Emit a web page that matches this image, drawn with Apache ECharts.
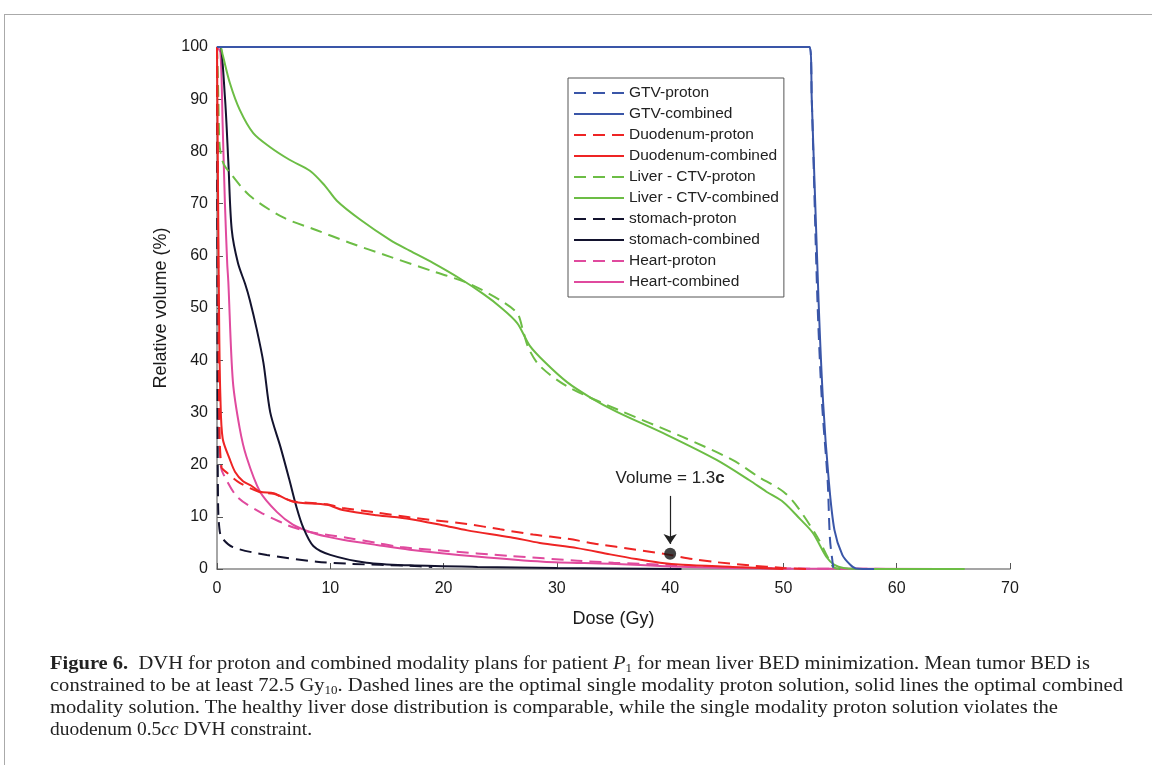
<!DOCTYPE html>
<html>
<head>
<meta charset="utf-8">
<script src="https://cdn.jsdelivr.net/npm/echarts@6/dist/echarts.min.js"></script>
<style>
  html, body { margin: 0; padding: 0; background: #fff; }
  #frame { position: absolute; left: 4px; top: 14px; width: 1148px; height: 751px;
           border-top: 1px solid #aaa; border-left: 1px solid #aaa; }
  #chart { position: absolute; left: 0; top: 0; width: 1152px; height: 765px; }
  .cap { position: absolute; left: 50px; white-space: nowrap; transform-origin: left center;
         font-family: 'Liberation Serif', 'DejaVu Serif', serif; font-size: 19px; line-height: 22px; color: #222; }
  .cap sub { font-size: 12px; line-height: 0; vertical-align: -3px; }
</style>
</head>
<body>
<div id="frame"></div>
<div id="chart"></div>
<div class="cap" id="l1" data-w="1040" style="top:652px"><b>Figure 6.</b>&nbsp; DVH for proton and combined modality plans for patient <i>P</i><sub>1</sub> for mean liver BED minimization. Mean tumor BED is</div>
<div class="cap" id="l2" data-w="1073" style="top:674px">constrained to be at least 72.5 Gy<sub>10</sub>. Dashed lines are the optimal single modality proton solution, solid lines the optimal combined</div>
<div class="cap" id="l3" data-w="1008" style="top:696px">modality solution. The healthy liver dose distribution is comparable, while the single modality proton solution violates the</div>
<div class="cap" id="l4" data-w="262" style="top:718px">duodenum 0.5<i>cc</i> DVH constraint.</div>
<script>
// dose (Gy), relative volume (%)
const gtvProton = [[0,100],[52.3,100],[52.5,90],[53.0,51.5],[53.4,32],[53.9,17],[54.1,6],[54.3,2],[54.5,0],[55,0]];
const gtvCombined = [[0,100],[52.3,100],[52.5,90],[53.1,51.5],[53.5,32],[54.0,17],[54.5,7.5],[55.2,2.7],[55.9,0.8],[56.4,0.1],[58,0]];

const duoProton = [[0,100],[0.1,60],[0.2,30],[0.4,19.5],[0.9,18.4],[2.0,16.5],[3.8,14.7],[5,14.4],[6.7,13],[9.7,12.4],[11.1,11.7],
  [14.1,10.8],[17,9.9],[22.1,8.6],[25,7.6],[27.9,6.6],[30.9,5.8],[33.8,4.7],[36.7,3.8],[39.7,2.8],[42,1.9],[44.1,1.3],[47,0.7],[50,0.2],[52,0]];
const duoCombined = [[0,100],[0.1,70],[0.2,45],[0.3,33],[0.5,25],[1.15,20.9],[1.6,18.6],[2.3,16.8],[3.0,16],[3.8,14.8],[5,14.5],
  [6.7,12.9],[9.7,12.3],[11.1,11.3],[14.1,10.3],[17,9.6],[19.9,8.4],[22.1,7.4],[25.9,6.1],[28.5,5],[31.8,4.0],[34.7,2.8],[37,1.9],
  [39.1,1.2],[41.1,0.8],[45.5,0.4],[50,0]];

const liverProton = [[0,100],[0.1,92],[0.2,82],[0.3,80],[0.6,77.5],[1.15,75.9],[2.9,71.5],[5.8,67.4],[8.8,64.9],[11.7,62.5],[15.3,59.8],
  [19.1,57],[22.1,54.8],[25,51.5],[26.5,49],[27,45.8],[27.5,42.3],[28.5,38.9],[30.9,35],[35.3,30.6],[41.1,25.3],[45.5,20.9],[47.7,17.8],
  [50,14.8],[51.2,12],[53,6.1],[53.9,2.3],[54.4,0.4],[55,0]];
const liverCombined = [[0,100],[0.3,100],[0.5,98.5],[1.15,93],[2.0,88],[3.2,83.5],[4.7,80.8],[6.4,78.4],[8.2,76.3],[9.5,73.5],[10.6,70.5],
  [12.6,67],[15.3,63],[17,61],[19.1,58.6],[21.4,55.7],[23.5,52.7],[25,50.2],[26.5,47.1],[27.6,42.8],[29,39.5],[30.9,35.8],[33,32.8],
  [35.3,30.1],[39.7,25.7],[44.1,20.9],[47,17],[48.5,14.8],[50,12.8],[51.5,9.5],[52.6,6.9],[53.8,2.3],[54.5,0.8],[55.3,0.2],[57,0],[66,0]];

const stomachProton = [[0,100],[0.05,30],[0.1,12],[0.2,8],[0.4,6.1],[1.4,4.2],[4.4,2.7],[8.8,1.4],[11.7,1.0],[17,0.6],[19,0.4]];
const stomachCombined = [[0,100],[0.26,100],[0.7,90.4],[1.0,78],[1.3,65],[1.85,58.6],[2.5,54.5],[2.9,51.5],[3.5,46],[4.1,39.5],[4.7,30],
  [5.6,23.4],[6.4,17],[7.0,12],[7.6,8],[8.5,4.4],[10,2.7],[13.2,1.2],[17,0.7],[23,0.4],[30,0.2],[41,0]];

const heartProton = [[0,100],[0.1,60],[0.2,25],[0.35,19.5],[0.6,18],[1.8,13.8],[3.8,10.9],[5.8,8.8],[6.7,8.0],[8.2,7.1],[11.7,5.9],
  [14.1,5.0],[16.2,4.2],[20,3.5],[25.9,2.5],[31.8,1.6],[35,1.2],[39.7,0.8],[45,0.3],[50,0.1],[64,0]];
const heartCombined = [[0,100],[0.3,99],[0.5,85],[0.7,70],[0.9,58.6],[1.0,55],[1.4,36],[2.0,27],[2.6,21.5],[3.8,14.8],[5.3,10.9],
  [6.7,8.5],[8.2,7.1],[9.7,6.2],[11.1,5.6],[14.1,4.6],[17,3.7],[22.9,2.4],[28.8,1.4],[34.7,1.0],[40,0.5],[45,0.2],[50,0.1],[64,0]];

const marker = [[40, 2.9]];
const arrowFrom = [40, 14];
const arrowTo = [40, 4.8];

const chart = echarts.init(document.getElementById('chart'));

const dash = [12, 7];
function line(name, data, color, dashed) {
  return {
    name: name,
    type: 'line',
    data: data,
    symbol: 'none',
    smooth: 0.3,
    lineStyle: { color: color, width: 2, type: dashed ? dash : 'solid' },
    itemStyle: { color: color },
  };
}

const blue = '#3a56a8', red = '#ee2424', green = '#6cbd45', navy = '#13132e', pink = '#e04a9e';

const option = {
  animation: false,
  textStyle: { fontFamily: 'Liberation Sans, Arial, sans-serif' },
  grid: { left: 217, right: 142, top: 47, bottom: 196 },
  legend: {
    orient: 'vertical',
    left: 568,
    top: 78,
    padding: [6, 5, 6, 5],
    itemWidth: 50,
    itemHeight: 14,
    itemGap: 3,
    borderColor: '#555',
    borderWidth: 1,
    itemStyle: { opacity: 0, borderWidth: 0 },
    textStyle: { fontSize: 15.5, lineHeight: 18, color: '#222', fontFamily: 'Liberation Sans, Arial, sans-serif' },
    data: ['GTV-proton', 'GTV-combined', 'Duodenum-proton', 'Duodenum-combined', 'Liver - CTV-proton',
      'Liver - CTV-combined', 'stomach-proton', 'stomach-combined', 'Heart-proton', 'Heart-combined'],
  },
  xAxis: {
    type: 'value',
    min: 0, max: 70, interval: 10,
    name: 'Dose (Gy)',
    nameLocation: 'middle',
    nameGap: 41,
    nameTextStyle: { fontSize: 18, color: '#1a1a1a' },
    axisLine: { lineStyle: { color: '#888', width: 1.5 } },
    axisTick: { inside: true, length: 6, lineStyle: { color: '#555' } },
    axisLabel: { fontSize: 16, color: '#1a1a1a', margin: 12 },
    splitLine: { show: false },
  },
  yAxis: {
    type: 'value',
    min: 0, max: 100, interval: 10,
    name: 'Relative volume (%)',
    nameLocation: 'middle',
    nameGap: 44,
    nameTextStyle: { fontSize: 18, color: '#1a1a1a' },
    axisLine: { show: true, lineStyle: { color: '#888', width: 1.5 } },
    axisTick: { show: true, inside: true, length: 6, lineStyle: { color: '#555' } },
    axisLabel: { fontSize: 16, color: '#1a1a1a', margin: 9 },
    splitLine: { show: false },
  },
  series: [
    line('Heart-proton', heartProton, pink, true),
    line('Heart-combined', heartCombined, pink, false),
    line('stomach-proton', stomachProton, navy, true),
    line('stomach-combined', stomachCombined, navy, false),
    line('Liver - CTV-proton', liverProton, green, true),
    line('Liver - CTV-combined', liverCombined, green, false),
    line('Duodenum-proton', duoProton, red, true),
    line('Duodenum-combined', duoCombined, red, false),
    line('GTV-proton', gtvProton, blue, true),
    line('GTV-combined', gtvCombined, blue, false),
    {
      name: 'marker',
      type: 'scatter',
      data: marker,
      symbolSize: 12,
      itemStyle: { color: '#111' },
      z: 5,
      markLine: {
        silent: true,
        symbol: ['none', 'arrow'],
        symbolSize: 10,
        lineStyle: { color: '#222', width: 1.2, type: 'solid' },
        label: {
          show: true,
          position: 'start',
          distance: 9,
          formatter: 'Volume = 1.3{b|c}',
          fontSize: 17,
          color: '#222',
          rich: { b: { fontSize: 17, fontWeight: 'bold', color: '#222' } },
        },
        data: [[{ coord: arrowFrom }, { coord: arrowTo }]],
      },
    },
  ],
};
chart.setOption(option);

// fit each caption line to its width in the figure
document.querySelectorAll('.cap').forEach(function (el) {
  const w = el.getBoundingClientRect().width;
  const target = +el.dataset.w;
  el.style.transform = 'scaleX(' + (target / w) + ')';
});

window.addEventListener('resize', function () { chart.resize(); });
</script>
</body>
</html>
